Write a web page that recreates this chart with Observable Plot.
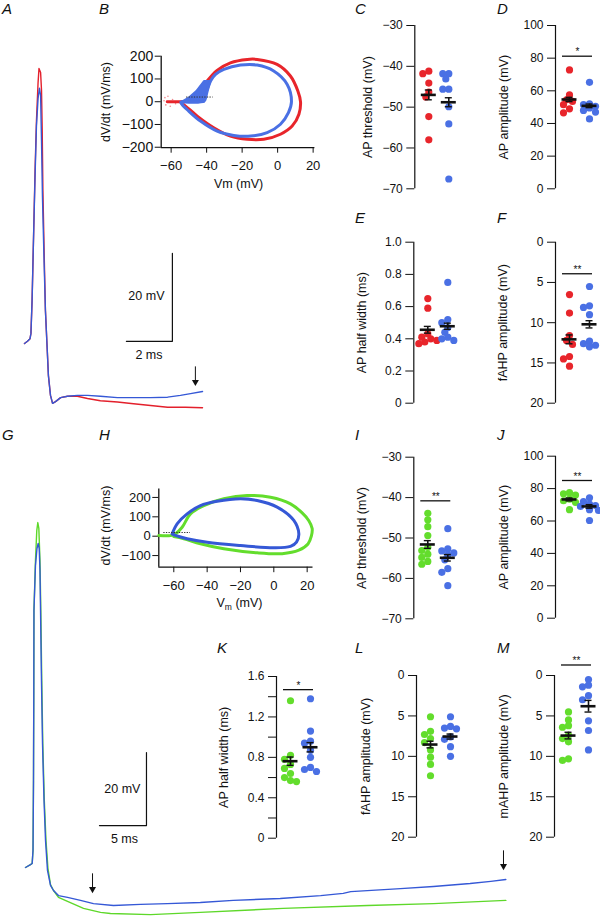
<!DOCTYPE html>
<html><head><meta charset="utf-8">
<script src="https://cdn.jsdelivr.net/npm/d3@7"></script>
<script src="https://cdn.jsdelivr.net/npm/@observablehq/plot@0.6"></script>
<style>
html,body{margin:0;padding:0;background:#fff;}
#fig{position:relative;width:600px;height:917px;overflow:hidden;font-family:"Liberation Sans",Arial,Helvetica,sans-serif;}
#fig svg{position:absolute;left:0;top:0;}
.letter{position:absolute;font-style:italic;font-size:15px;line-height:1;color:#111;}
</style></head><body><div id="fig"></div>
<script>
// ---------------- DATA ----------------
// Panel A traces: [time ms, Vm mV]
const traceABlue = [[0,-60],[0.13,-59.5],[0.24,-58.9],[0.28,-57.7],[0.33,-50.2],[0.39,-36.6],[0.46,-21.8],[0.52,-10.5],[0.59,-4.3],[0.65,-2.0],[0.70,-3.6],[0.74,-13.9],[0.78,-26.4],[0.85,-41.1],[0.91,-52.5],[0.99,-61.6],[1.04,-67.3],[1.13,-71.8],[1.22,-73.6],[1.35,-73.2],[1.57,-72.3],[1.87,-72.0],[2.30,-71.8],[2.74,-71.8],[3.30,-72.0],[4.04,-72.3],[4.74,-72.3],[5.48,-72.3],[6.22,-72.2],[6.78,-71.8],[7.22,-71.4],[7.74,-70.9]];
const traceARed = [[0,-60],[0.13,-59.5],[0.24,-58.9],[0.28,-57.7],[0.33,-50.2],[0.39,-36.6],[0.46,-20.5],[0.52,-9.3],[0.59,-0.7],[0.63,2.5],[0.70,1.6],[0.74,-2.5],[0.77,-11.6],[0.80,-25.2],[0.86,-40.7],[0.91,-52.5],[0.99,-61.6],[1.04,-67.3],[1.13,-71.8],[1.22,-73.6],[1.35,-73.2],[1.57,-72.3],[1.87,-72.0],[2.30,-72.0],[2.74,-72.5],[3.30,-73.0],[4.04,-73.3],[4.74,-73.7],[5.48,-74.1],[6.22,-74.5],[7.0,-74.5],[7.74,-74.6]];
const scaleBarA = [[4.43,-59.5],[6.43,-59.5],[6.43,-39.5]];
const scaleTextA = [{t:5.30,v:-49.3,label:"20 mV"},{t:5.41,v:-62.7,label:"2 ms"}];
const arrowA = [{t:7.43,v1:-65.2,v2:-69.3}];

// Panel G traces
const traceGBlue = [[0,-60],[0.53,-59.2],[0.71,-58.9],[0.80,-55.3],[0.85,-36.2],[0.88,-14.2],[0.90,10.4],[1.06,22.7],[1.22,27.4],[1.35,28.8],[1.46,27.4],[1.54,21.4],[1.60,10.4],[1.70,-8.8],[1.81,-26],[1.97,-41.6],[2.13,-52.6],[2.34,-60.8],[2.66,-64.9],[2.98,-66.3],[3.51,-67.7],[4.47,-68.2],[5.85,-69],[7.23,-69.9],[9.36,-70.4],[12.23,-70.1],[15.1,-69.9],[18.6,-69.6],[22.1,-69],[27.1,-68.5],[31.4,-67.7],[33.8,-67.1],[34.6,-66.6],[39.9,-65.8],[43.4,-65.2],[47.3,-64.4],[49.5,-63.8],[51.1,-63.3]];
const traceGGreen = [[0,-60],[0.53,-59.2],[0.71,-58.9],[0.80,-55.3],[0.85,-36.2],[0.88,-14.2],[0.90,10.4],[1.06,24.1],[1.20,32.3],[1.31,34.5],[1.42,32.9],[1.54,24.1],[1.63,10.4],[1.73,-8.8],[1.84,-26],[2.0,-41.6],[2.18,-52.6],[2.39,-60.3],[2.66,-64.7],[2.98,-66.3],[3.51,-68.2],[4.47,-69.3],[6.17,-71.2],[7.98,-72.3],[9.04,-72.6],[13.3,-72.9],[18.6,-72.3],[27.4,-71.2],[36.4,-70.4],[43.4,-69.9],[51.1,-69]];
const scaleBarG = [[7.87,-48.5],[12.87,-48.5],[12.87,-28.5]];
const scaleTextG = [{t:10.3,v:-38.4,label:"20 mV"},{t:10.53,v:-52.1,label:"5 ms"}];
const arrowG = [{t:7.13,v1:-61.6,v2:-66.6},{t:50.85,v1:-55.3,v2:-60.3}];

// Panel B phase plot: [Vm, dV/dt]
const bXDomain = [-65.6, 21], bYDomain = [-202, 200];
const bXTicks = [-60,-40,-20,0,20], bYTicks = [-200,-100,0,100,200];
const bRed = [[-62.2,0],[-55,0],[-50,3],[-47.2,10.5],[-43.5,47],[-39.7,91],[-34.1,138],[-26.6,171],[-17.1,186],[-11.5,186],[-0.3,164],[7.2,113],[11.4,47],[12.9,0],[12,-55],[8.2,-107],[1.6,-143],[-7.8,-165],[-17.1,-165],[-26.6,-151],[-36,-114],[-45.3,-63],[-51.9,-19],[-54.7,-2]];
const bBlue = [[-53.9,0],[-41.5,3],[-40.5,20],[-39.7,47],[-37.8,91],[-35,120],[-30.3,142],[-20.9,161],[-11.5,161],[-2.2,135],[5.4,76],[7.8,0],[6.1,-48],[1.6,-99],[-5.9,-136],[-15.2,-151],[-24.7,-148],[-34.1,-129],[-43.5,-85],[-50.1,-41],[-53.9,-12],[-54.5,-2]];
const bBlueBand = [[-53.9,0],[-41.5,0],[-41.5,17.6],[-39.7,47],[-37.8,91],[-41.5,91],[-45.8,47],[-50.1,17.6]];
const bRedNoise = [[-63.5,18],[-63,-14],[-61.8,24],[-60.5,-20],[-59.2,10],[-57.5,-9],[-64,4]];
const bDotted = [{dv:20.6,v1:-51.3,v2:-36.3}];

// Panel H phase plot
const hXDomain = [-69, 23.5], hYDomain = [-160, 243];
const hXTicks = [-60,-40,-20,0,20], hYTicks = [-100,0,100,200];
const hGreen = [[-69,3.6],[-62,3],[-59,12],[-55,46],[-50,115],[-42,158],[-30,193],[-16,210],[-2,201],[10,167],[17,120],[21,80],[23,40],[22.5,0],[20.5,-40],[15,-72],[5,-90],[-10,-86],[-30,-65],[-44,-39],[-54,-13],[-60,-2]];
const hBlue = [[-61,12],[-58,64],[-52,115],[-44,158],[-34,180],[-20,193],[-10,184],[2,150],[12,81],[15,12],[13.6,-31],[10,-53],[0,-60],[-20,-48],[-40,-31],[-52,-13],[-59,4],[-61,12]];
const hDotted = [{dv:19,v1:-66,v2:-50}];

// Scatter panels
const cRed = [-41.2,-41.8,-44.1,-46.3,-47.5,-52.3,-58.0];
const cBlue = [-41.8,-41.8,-43.1,-45.6,-45.6,-49.9,-54.1,-67.6];
const cMean = [-47.0,-48.8], cSem = [1.2,1.1];
const dRed = [72.8,57.5,54.5,53.5,51.5,49,46.5];
const dBlue = [65.2,52,51.5,50.5,49.5,48,47,42.8];
const dMean = [54.7,50.8], dSem = [1.3,1.1], dSig = {y:81.2, stars:"*"};
const eRed = [0.65,0.59,0.43,0.41,0.40,0.39,0.38,0.37];
const eBlue = [0.75,0.52,0.50,0.47,0.44,0.41,0.39,0.40];
const eMean = [0.456,0.478], eSem = [0.021,0.019];
const fRed = [6.5,8.8,11.6,12.2,12.7,14.2,14.5,15.4];
const fBlue = [5.5,7.9,8.1,9.0,12.3,12.6,12.8,13.0];
const fMean = [12.07,10.2], fSem = [0.55,0.45], fSig = {y:3.92, stars:"**"};
const iGreen = [-43.9,-45.5,-47.2,-49.4,-52.3,-53.1,-54,-54.8,-55.8,-56.5];
const iBlue = [-47.7,-52.7,-53.2,-53.7,-54.2,-55.4,-57.6,-58.5,-61.8];
const iMean = [-51.6,-54.9], iSem = [0.95,0.8], iSig = {y:-40.8, stars:"**"};
const jGreen = [77.5,76.8,76,73.5,72.5,71.5,67];
const jBlue = [74.3,72,70.5,69.5,69,67,66.5,60.3];
const jMean = [73.3,69], jSem = [0.9,1.1], jSig = {y:85, stars:"**"};
const kGreen = [1.36,0.82,0.78,0.73,0.69,0.64,0.60,0.57,0.56];
const kBlue = [1.38,1.06,0.96,0.94,0.87,0.80,0.70,0.68,0.66];
const kMean = [0.762,0.90], kSem = [0.041,0.046], kSig = {y:1.47, stars:"*"};
const lGreen = [5.1,6.9,7.3,7.8,8.3,9.2,10.1,11.0,12.4];
const lBlue = [5.1,6.3,6.5,6.6,7.6,7.9,8.8,10.0];
const lMean = [8.54,7.55], lSem = [0.41,0.31];
const mGreen = [4.5,5.5,6.2,6.4,7.4,7.8,8.2,10.3,10.5];
const mBlue = [0.5,1.2,1.4,2.5,3.0,5.6,6.8,9.2];
const mMean = [7.43,3.8], mSem = [0.41,0.72], mSig = {y:-1.3, stars:"**"};

const ticksThr = [-30,-40,-50,-60,-70], ticksAmp = [100,80,60,40,20,0];
const ticksHW = [1.0,0.8,0.6,0.4,0.2,0], ticksAHP = [0,5,10,15,20];
const ticksK = [1.6,1.2,0.8,0.4,0], minorK = [1.4,1.0,0.6,0.2];

// ---------------- STYLE ----------------
const RED = "#e8252b", BLUE = "#4a70e4", GREEN = "#63dd2c";
const REDT = "#e3202c", BLUET = "#3558d6", GREENT = "#5ed82a";
const FONT = "'Liberation Sans', Arial, Helvetica, sans-serif";
const INK = "#111";
const fmtInt = d3.format("d");
const fmt1 = d => d === 0 ? "0" : d3.format(".1f")(d);
const fig = document.getElementById("fig");

function base(opts) {
  return Plot.plot(Object.assign({
    width: 600, height: 917,
    style: {background: "transparent", fontFamily: FONT, fontSize: "12px", color: INK, overflow: "visible"}
  }, opts));
}
const P = (d) => d[0], Q = (d) => d[1];
function arrowMarks(data) {
  return [
    Plot.link(data, {x1: "t", x2: "t", y1: "v1", y2: "v2", stroke: INK, strokeWidth: 1}),
    Plot.dot(data, {x: "t", y: "v2", symbol: "triangle", rotate: 180, r: 2.6, fill: INK, stroke: "none", dy: -2.5})
  ];
}

// ---------------- TRACE PANELS ----------------
fig.appendChild(base({
  margin: 0,
  x: {domain: [0, 8], range: [24, 208], axis: null},
  y: {domain: [-80, 5], range: [431, 57], axis: null},
  marks: [
    Plot.line(traceARed, {x: P, y: Q, stroke: REDT, strokeWidth: 1.4}),
    Plot.line(traceABlue, {x: P, y: Q, stroke: BLUET, strokeWidth: 1.4}),
    Plot.line(scaleBarA, {x: P, y: Q, stroke: INK, strokeWidth: 1.2}),
    Plot.text(scaleTextA, {x: "t", y: "v", text: "label", fontSize: 12.5}),
    ...arrowMarks(arrowA)
  ]
}));

fig.appendChild(base({
  margin: 0,
  x: {domain: [0, 52], range: [25, 25 + 52 * 9.4], axis: null},
  y: {domain: [-75, 40], range: [867 + 15 * 3.65, 867 - 100 * 3.65], axis: null},
  marks: [
    Plot.line(traceGGreen, {x: P, y: Q, stroke: GREENT, strokeWidth: 1.4}),
    Plot.line(traceGBlue, {x: P, y: Q, stroke: BLUET, strokeWidth: 1.4}),
    Plot.line(scaleBarG, {x: P, y: Q, stroke: INK, strokeWidth: 1.2}),
    Plot.text(scaleTextG, {x: "t", y: "v", text: "label", fontSize: 12.5}),
    ...arrowMarks(arrowG)
  ]
}));

// ---------------- PHASE PLOTS ----------------
function phase(cfg) {
  const [l, r] = cfg.xr, [b, t] = cfg.yr;
  const marks = [
    Plot.ruleX([cfg.xd[0]], {y1: cfg.yd[0], y2: cfg.yd[1], stroke: INK, strokeWidth: 1.3}),
    Plot.ruleY([cfg.yd[0]], {x1: cfg.xd[0], x2: cfg.xd[1], stroke: INK, strokeWidth: 1.3}),
    Plot.axisY({ticks: cfg.yt, tickFormat: fmtInt, tickSize: 6, tickPadding: 2, fontSize: cfg.yFont, label: null}),
    Plot.axisX({ticks: cfg.xt, tickFormat: fmtInt, tickSize: 5.5, tickPadding: 8, fontSize: 13, label: null}),
    ...cfg.marks,
    Plot.ruleY(cfg.dotted, {y: "dv", x1: "v1", x2: "v2", stroke: "#333", strokeWidth: 1, strokeDasharray: "1.3,1.3"}),
    Plot.text(["dV/dt (mV/ms)"], {frameAnchor: "left", text: d => d, rotate: -90, textAnchor: "middle", lineAnchor: "middle", dx: cfg.ylabDx, dy: cfg.ylabDy, fontSize: 12.5}),
    Plot.text([cfg.xlab], {frameAnchor: "bottom", text: d => d, textAnchor: "middle", lineAnchor: "middle", dx: cfg.xlabDx, dy: cfg.xlabDy, fontSize: 12.5, className: cfg.cls})
  ];
  return base({
    marginLeft: l, marginRight: 600 - r, marginTop: t, marginBottom: 917 - b,
    x: {domain: cfg.xd, range: [l, r], axis: null},
    y: {domain: cfg.yd, range: [b, t], axis: null},
    marks
  });
}

fig.appendChild(phase({
  xd: bXDomain, yd: bYDomain, xt: bXTicks, yt: bYTicks, yFont: 14,
  xr: [160.7, 314.4], yr: [147.2, 55.7], dotted: bDotted,
  ylabDx: -55, ylabDy: 0, xlab: "Vm (mV)", xlabDx: 0.5, xlabDy: 35.8, cls: "bxlab",
  marks: [
    Plot.dot(bRedNoise, {x: P, y: Q, r: 0.8, fill: "#f08a90"}),
    Plot.line(bRed, {x: P, y: Q, stroke: RED, strokeWidth: 3, curve: "catmull-rom"}),
    Plot.line(bBlueBand, {x: P, y: Q, stroke: BLUE, strokeWidth: 2, fill: BLUE, curve: "linear-closed"}),
    Plot.line(bBlue, {x: P, y: Q, stroke: BLUE, strokeWidth: 3, curve: "catmull-rom"})
  ]
}));

fig.appendChild(phase({
  xd: hXDomain, yd: hYDomain, xt: hXTicks, yt: hYTicks, yFont: 13,
  xr: [158.3, 312.5], yr: [566.7, 488.6], dotted: hDotted,
  ylabDx: -53.3, ylabDy: -2.6, xlab: "Vm (mV)", xlabDx: 3.6, xlabDy: 35.8, cls: "hxlab",
  marks: [
    Plot.line(hGreen, {x: P, y: Q, stroke: GREEN, strokeWidth: 3, curve: "catmull-rom"}),
    Plot.line(hBlue, {x: P, y: Q, stroke: BLUET, strokeWidth: 3, curve: "catmull-rom"})
  ]
}));

// subscript m in H x-label
{
  const t = fig.querySelector(".hxlab text");
  if (t) {
    t.textContent = "";
    const ns = "http://www.w3.org/2000/svg";
    const a = document.createElementNS(ns, "tspan"); a.textContent = "V";
    const b = document.createElementNS(ns, "tspan"); b.textContent = "m"; b.setAttribute("font-size", "8.5"); b.setAttribute("dy", "2.5");
    const c = document.createElementNS(ns, "tspan"); c.textContent = " (mV)"; c.setAttribute("dy", "-2.5");
    t.append(a, b, c);
  }
}

// ---------------- SCATTER PANELS ----------------
function dotPanel(p) {
  const W = 50, centers = [14, 34];
  const ys = Plot.scale({y: {domain: p.domain, range: [p.top, p.bottom]}});
  const groupPts = p.groups.map((g, gi) => {
    const arr = g.values.map(v => ({v, py: ys.apply(v)})).sort((a, b) => a.py - b.py);
    const placed = [];
    for (const q of arr) {
      let off = 0;
      for (const c of [0, -3, 3, -6, 6, -9, 9]) {
        if (placed.every(o => Math.hypot(o.off - c, o.py - q.py) >= 5.5)) { off = c; break; }
      }
      q.off = off; placed.push(q);
    }
    return arr.map(q => ({x: centers[gi] + q.off, value: q.v}));
  });
  const stats = p.groups.map((g, gi) => ({c: centers[gi], mean: g.mean, lo: g.mean - g.sem, hi: g.mean + g.sem}));
  const marks = [
    Plot.ruleX([0], {y1: p.domain[0], y2: p.domain[1], stroke: INK, strokeWidth: 1.2}),
    Plot.axisY({ticks: p.ticks, tickFormat: p.fmt, tickSize: 8, tickPadding: 4, fontSize: 12, label: null}),
  ];
  if (p.minor) marks.push(Plot.axisY({ticks: p.minor, text: null, tickSize: 8, label: null}));
  groupPts.forEach((pts, gi) => marks.push(Plot.dot(pts, {x: "x", y: "value", r: 3.6, fill: p.groups[gi].color})));
  marks.push(
    Plot.ruleY(stats, {y: "mean", x1: d => d.c - 7.5, x2: d => d.c + 7.5, stroke: INK, strokeWidth: 2.6}),
    Plot.ruleX(stats, {x: "c", y1: "lo", y2: "hi", stroke: INK, strokeWidth: 1.6}),
    Plot.ruleY(stats, {y: "lo", x1: d => d.c - 3.5, x2: d => d.c + 3.5, stroke: INK, strokeWidth: 1.4}),
    Plot.ruleY(stats, {y: "hi", x1: d => d.c - 3.5, x2: d => d.c + 3.5, stroke: INK, strokeWidth: 1.4}),
    Plot.text([p.label], {frameAnchor: "left", text: d => d, rotate: -90, textAnchor: "middle", lineAnchor: "middle", dx: -p.labelDist, fontSize: 12.5})
  );
  if (p.sig) marks.push(
    Plot.ruleY([p.sig], {y: "y", x1: () => 7, x2: () => 37, stroke: INK, strokeWidth: 1.3}),
    Plot.text([p.sig], {x: () => 22, y: "y", text: "stars", dy: -4, fontSize: 10})
  );
  return base({
    marginLeft: p.axis, marginRight: 600 - p.axis - W, marginTop: p.top, marginBottom: 917 - p.bottom,
    x: {domain: [0, W], range: [p.axis, p.axis + W], axis: null},
    y: {domain: p.domain, range: [p.top, p.bottom], axis: null},
    marks
  });
}

const panels = [
  {axis: 414.3, top: 25, bottom: 188.3, domain: [-30, -70], ticks: ticksThr, fmt: fmtInt, label: "AP threshold (mV)", labelDist: 47,
   groups: [{values: cRed, color: RED, mean: cMean[0], sem: cSem[0]}, {values: cBlue, color: BLUE, mean: cMean[1], sem: cSem[1]}]},
  {axis: 555, top: 25, bottom: 188.3, domain: [100, 0], ticks: ticksAmp, fmt: fmtInt, label: "AP amplitude (mV)", labelDist: 52, sig: dSig,
   groups: [{values: dRed, color: RED, mean: dMean[0], sem: dSem[0]}, {values: dBlue, color: BLUE, mean: dMean[1], sem: dSem[1]}]},
  {axis: 413.3, top: 241.7, bottom: 402.7, domain: [1.0, 0], ticks: ticksHW, fmt: fmt1, label: "AP half width (ms)", labelDist: 52,
   groups: [{values: eRed, color: RED, mean: eMean[0], sem: eSem[0]}, {values: eBlue, color: BLUE, mean: eMean[1], sem: eSem[1]}]},
  {axis: 555, top: 241.7, bottom: 402.7, domain: [0, 20], ticks: ticksAHP, fmt: fmtInt, label: "fAHP amplitude (mV)", labelDist: 53, sig: fSig,
   groups: [{values: fRed, color: RED, mean: fMean[0], sem: fSem[0]}, {values: fBlue, color: BLUE, mean: fMean[1], sem: fSem[1]}]},
  {axis: 413.3, top: 456.7, bottom: 618.3, domain: [-30, -70], ticks: ticksThr, fmt: fmtInt, label: "AP threshold (mV)", labelDist: 52, sig: iSig,
   groups: [{values: iGreen, color: GREEN, mean: iMean[0], sem: iSem[0]}, {values: iBlue, color: BLUE, mean: iMean[1], sem: iSem[1]}]},
  {axis: 555, top: 455.7, bottom: 617.7, domain: [100, 0], ticks: ticksAmp, fmt: fmtInt, label: "AP amplitude (mV)", labelDist: 52, sig: jSig,
   groups: [{values: jGreen, color: GREEN, mean: jMean[0], sem: jSem[0]}, {values: jBlue, color: BLUE, mean: jMean[1], sem: jSem[1]}]},
  {axis: 276, top: 676, bottom: 837.7, domain: [1.6, 0], ticks: ticksK, minor: minorK, fmt: fmt1, label: "AP half width (ms)", labelDist: 53, sig: kSig,
   groups: [{values: kGreen, color: GREEN, mean: kMean[0], sem: kSem[0]}, {values: kBlue, color: BLUE, mean: kMean[1], sem: kSem[1]}]},
  {axis: 416, top: 675, bottom: 836.7, domain: [0, 20], ticks: ticksAHP, fmt: fmtInt, label: "fAHP amplitude (mV)", labelDist: 51,
   groups: [{values: lGreen, color: GREEN, mean: lMean[0], sem: lSem[0]}, {values: lBlue, color: BLUE, mean: lMean[1], sem: lSem[1]}]},
  {axis: 554, top: 675, bottom: 836.7, domain: [0, 20], ticks: ticksAHP, fmt: fmtInt, label: "mAHP amplitude (mV)", labelDist: 51, sig: mSig,
   groups: [{values: mGreen, color: GREEN, mean: mMean[0], sem: mSem[0]}, {values: mBlue, color: BLUE, mean: mMean[1], sem: mSem[1]}]}
];
panels.forEach(p => fig.appendChild(dotPanel(p)));

// ---------------- PANEL LETTERS ----------------
const letters = [["A",2,1],["B",99,1],["C",355,1],["D",497,1],["E",355,210],["F",497,210],["G",2,427],["H",99,427],["I",355,427],["J",497,427],["K",217,640],["L",355,640],["M",497,640]];
for (const [s, x, y] of letters) {
  const d = document.createElement("div");
  d.className = "letter"; d.textContent = s;
  d.style.left = x + "px"; d.style.top = y + "px";
  fig.appendChild(d);
}
</script></body></html>
